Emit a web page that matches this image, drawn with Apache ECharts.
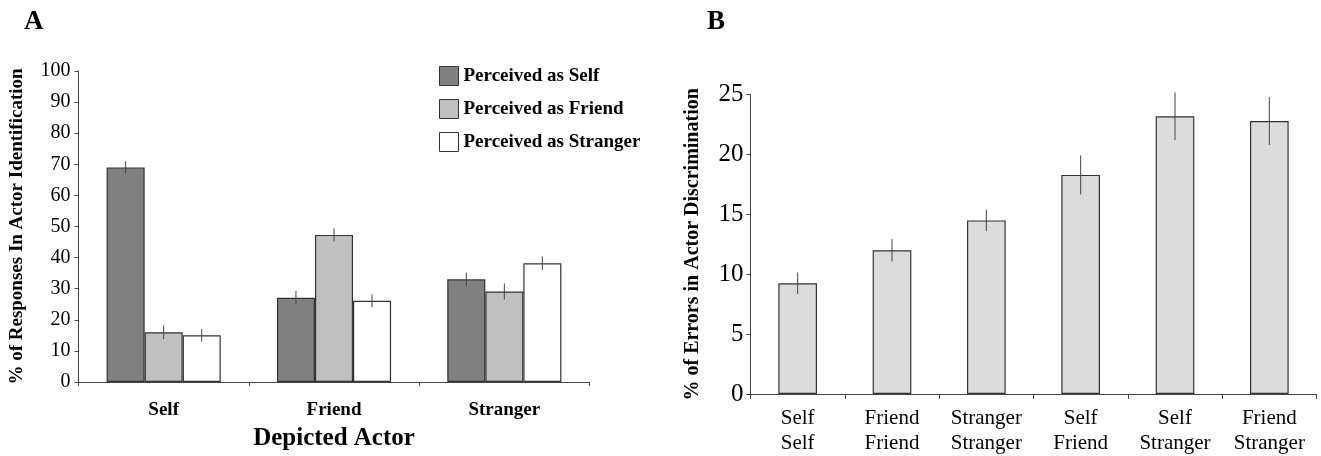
<!DOCTYPE html>
<html>
<head>
<meta charset="utf-8">
<script src="https://cdn.jsdelivr.net/npm/echarts@6/dist/echarts.min.js"></script>
<style>
html,body{margin:0;padding:0;background:#fff;}
#c{width:1321px;height:456px;}
</style>
</head>
<body>
<div id="c"></div>
<script>
// ---- Panel A data ----
var actorCats = ['Self', 'Friend', 'Stranger'];
var seriesNamesA = ['Perceived as Self', 'Perceived as Friend', 'Perceived as Stranger'];
var perceivedSelf = [69, 27.1, 33];
var perceivedFriend = [16, 47.3, 29.1];
var perceivedStranger = [15, 26.1, 38.2];
var errSelf = [2.0, 2.2, 2.2];
var errFriend = [2.2, 2.1, 2.6];
var errStranger = [2.1, 2.1, 2.2];
var yTicksA = [0, 10, 20, 30, 40, 50, 60, 70, 80, 90, 100];

// ---- Panel B data ----
var pairCats = ['Self\nSelf', 'Friend\nFriend', 'Stranger\nStranger', 'Self\nFriend', 'Self\nStranger', 'Friend\nStranger'];
var errorRates = [9.25, 12.0, 14.5, 18.3, 23.2, 22.8];
var errorSE = [0.9, 0.93, 0.9, 1.63, 2.0, 2.0];
var yTicksB = [0, 5, 10, 15, 20, 25];

var FONT = 'Liberation Serif';
var colorsA = ['#808080', '#c0c0c0', '#ffffff'];
var valsA = [perceivedSelf, perceivedFriend, perceivedStranger];
var errsA = [errSelf, errFriend, errStranger];
var GAP_A = 0.33;

function errData(vals, errs) {
  return vals.map(function (v, i) { return [i, v - errs[i], v + errs[i]]; });
}

function makeErrRender(idx, nSeries, gap) {
  return function (params, api) {
    var band = api.size([1, 0])[0];
    var bw = band * (1 - gap) / nSeries;
    var off = (idx - (nSeries - 1) / 2) * bw;
    var lo = api.coord([api.value(0), api.value(1)]);
    var hi = api.coord([api.value(0), api.value(2)]);
    return {
      type: 'line',
      shape: { x1: lo[0] + off, y1: lo[1], x2: hi[0] + off, y2: hi[1] },
      style: { stroke: '#444', lineWidth: 1 }
    };
  };
}

var series = [];
valsA.forEach(function (vals, k) {
  series.push({
    name: seriesNamesA[k], type: 'bar', xAxisIndex: 0, yAxisIndex: 0,
    data: vals, barGap: '0%', barCategoryGap: (GAP_A * 100) + '%',
    itemStyle: { color: colorsA[k], borderColor: '#333', borderWidth: 1.2 },
    emphasis: { disabled: true }
  });
});
valsA.forEach(function (vals, k) {
  series.push({
    type: 'custom', xAxisIndex: 0, yAxisIndex: 0, z: 10,
    renderItem: makeErrRender(k, 3, GAP_A),
    encode: { x: 0, y: [1, 2] },
    data: errData(vals, errsA[k])
  });
});
series.push({
  type: 'bar', xAxisIndex: 1, yAxisIndex: 1, data: errorRates,
  barCategoryGap: '59%',
  itemStyle: { color: '#dcdcdc', borderColor: '#333', borderWidth: 1.2 },
  emphasis: { disabled: true }
});
series.push({
  type: 'custom', xAxisIndex: 1, yAxisIndex: 1, z: 10,
  renderItem: makeErrRender(0, 1, 0.59),
  encode: { x: 0, y: [1, 2] },
  data: errData(errorRates, errorSE)
});

var axisLine = { show: true, lineStyle: { color: '#444', width: 1 } };

var option = {
  backgroundColor: '#fff',
  animation: false,
  textStyle: { fontFamily: FONT },
  title: [
    { text: 'A', left: 19, top: 4, textStyle: { fontFamily: FONT, fontWeight: 'bold', fontSize: 27, color: '#000' } },
    { text: 'B', left: 702, top: 4, textStyle: { fontFamily: FONT, fontWeight: 'bold', fontSize: 27, color: '#000' } }
  ],
  legend: {
    data: seriesNamesA, orient: 'vertical', left: 439, top: 66, padding: 0,
    itemWidth: 19, itemHeight: 19, itemGap: 13, icon: 'rect',
    itemStyle: { borderColor: '#333', borderWidth: 1 },
    textStyle: { fontFamily: FONT, fontWeight: 'bold', fontSize: 19, color: '#000' },
    selectedMode: false
  },
  grid: [
    { left: 78.5, top: 71, width: 511, height: 312 },
    { left: 750.5, top: 94.7, width: 566, height: 299.6 }
  ],
  xAxis: [
    {
      type: 'category', gridIndex: 0, data: actorCats,
      axisLine: axisLine,
      axisTick: { show: true, alignWithLabel: false, length: 4, lineStyle: { color: '#444' } },
      axisLabel: { fontFamily: FONT, fontWeight: 'bold', fontSize: 19, color: '#000', margin: 19 },
      name: 'Depicted Actor', nameLocation: 'middle', nameGap: 44,
      nameTextStyle: { fontFamily: FONT, fontWeight: 'bold', fontSize: 25, color: '#000' }
    },
    {
      type: 'category', gridIndex: 1, data: pairCats,
      axisLine: axisLine,
      axisTick: { show: true, length: 5, lineStyle: { color: '#444' } },
      axisLabel: { fontFamily: FONT, fontSize: 21, color: '#000', margin: 12, lineHeight: 25, interval: 0 }
    }
  ],
  yAxis: [
    {
      type: 'value', gridIndex: 0, min: yTicksA[0], max: yTicksA[yTicksA.length - 1], interval: 10,
      axisLine: axisLine,
      axisTick: { show: true, length: 4, lineStyle: { color: '#444' } },
      splitLine: { show: false },
      axisLabel: { fontFamily: FONT, fontSize: 20, color: '#000', margin: 8 },
      name: '% of Responses In Actor Identification', nameLocation: 'middle', nameGap: 52,
      nameTextStyle: { fontFamily: FONT, fontWeight: 'bold', fontSize: 19, color: '#000' }
    },
    {
      type: 'value', gridIndex: 1, min: yTicksB[0], max: yTicksB[yTicksB.length - 1], interval: 5,
      axisLine: axisLine,
      axisTick: { show: true, length: 4, lineStyle: { color: '#444' } },
      splitLine: { show: false },
      axisLabel: { fontFamily: FONT, fontSize: 25, color: '#000', margin: 7 },
      name: '% of Errors in Actor Discrimination', nameLocation: 'middle', nameGap: 48,
      nameTextStyle: { fontFamily: FONT, fontWeight: 'bold', fontSize: 20, color: '#000' }
    }
  ],
  series: series
};

var chart = echarts.init(document.getElementById('c'), null, { renderer: 'canvas' });
chart.setOption(option);
</script>
</body>
</html>
